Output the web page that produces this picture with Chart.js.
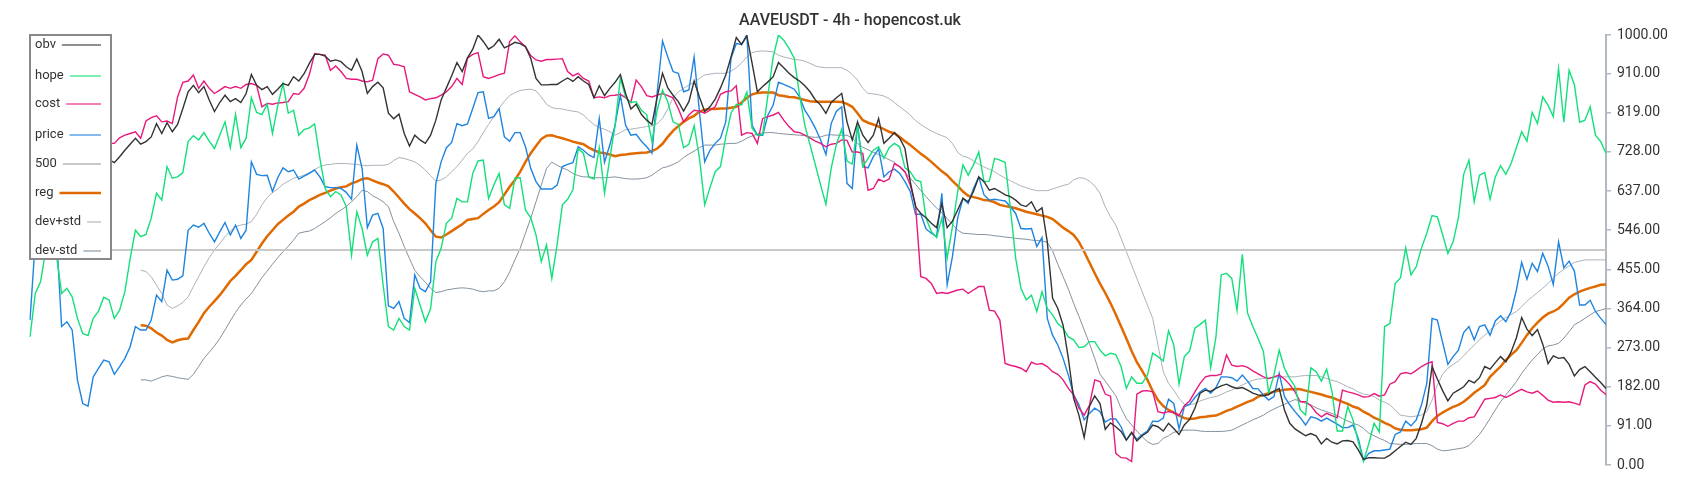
<!DOCTYPE html>
<html>
<head>
<meta charset="utf-8">
<title>AAVEUSDT - 4h - hopencost.uk</title>
<script src="https://cdn.jsdelivr.net/npm/chart.js@4.4.1/dist/chart.umd.min.js"></script>
<style>
  html, body { margin: 0; padding: 0; background: #fff; }
  #wrap { width: 1700px; height: 500px; }
</style>
</head>
<body>
<div id="wrap"><canvas id="chart" width="1700" height="500"></canvas></div>
<script>
const titleText = 'AAVEUSDT - 4h - hopencost.uk';

// y axis tick values (right side)
const yTicks = [0, 91, 182, 273, 364, 455, 546, 637, 728, 819, 910, 1000];

// 300 candles
const obv = [
  690, 700, 680, 670, 690, 705, 720, 710, 700, 715,
  730, 720, 710, 700, 695, 710, 703, 717, 732, 746,
  760, 746, 752, 763, 794, 771, 796, 775, 792, 829,
  868, 883, 866, 880, 849, 822, 843, 860, 845, 852,
  843, 864, 908, 883, 873, 880, 862, 874, 887, 883,
  903, 893, 910, 934, 955, 955, 951, 939, 942, 938,
  926, 918, 944, 915, 864, 880, 890, 877, 818, 805,
  816, 771, 742, 767, 756, 748, 767, 802, 849, 877,
  905, 936, 915, 947, 967, 1000, 985, 967, 975, 990,
  970, 976, 983, 980, 973, 946, 899, 884, 884, 885,
  885, 893, 900, 892, 903, 893, 885, 854, 882, 859,
  876, 890, 908, 864, 828, 839, 815, 802, 792, 856,
  911, 877, 860, 845, 823, 845, 893, 856, 822, 833,
  851, 877, 907, 949, 994, 978, 998, 934, 868, 880,
  891, 903, 936, 924, 911, 901, 893, 882, 868, 849,
  837, 818, 843, 854, 864, 798, 756, 798, 767, 750,
  767, 806, 748, 760, 773, 760, 736, 659, 601, 585,
  575, 562, 552, 608, 552, 567, 593, 620, 612, 636,
  670, 659, 639, 643, 636, 628, 624, 616, 605, 601,
  612, 589, 598, 519, 388, 364, 325, 248, 155, 116,
  64, 136, 161, 143, 83, 98, 89, 78, 58, 76,
  56, 68, 76, 93, 89, 79, 97, 85, 71, 93,
  106, 132, 167, 174, 171, 178, 184, 188, 182, 178,
  180, 174, 167, 163, 161, 164, 172, 178, 128, 97,
  84, 76, 68, 73, 68, 49, 62, 53, 49, 56,
  57, 54, 35, 13, 17, 17, 16, 16, 23, 33,
  43, 53, 48, 62, 97, 140, 229, 200, 173, 149,
  167, 174, 182, 197, 191, 203, 229, 223, 238, 252,
  240, 263, 296, 343, 316, 301, 315, 281, 236, 254,
  248, 250, 234, 207, 222, 229, 217, 204, 192, 178
];

const hope = [
  298, 399, 426, 500, 520, 490, 399, 411, 391, 341,
  306, 301, 341, 358, 390, 384, 341, 360, 403, 480,
  546, 531, 536, 574, 632, 616, 694, 667, 670, 680,
  752, 766, 756, 773, 753, 736, 767, 798, 738, 815,
  738, 760, 854, 820, 815, 839, 771, 835, 887, 818,
  825, 767, 780, 784, 793, 713, 643, 624, 636, 628,
  601, 488, 589, 550, 488, 519, 527, 418, 322, 314,
  341, 322, 314, 411, 372, 333, 364, 473, 504, 562,
  574, 620, 612, 612, 678, 707, 709, 620, 651, 678,
  605, 597, 667, 668, 593, 575, 535, 473, 512, 434,
  512, 605, 618, 640, 735, 725, 670, 665, 738, 632,
  713, 790, 899, 856, 843, 845, 825, 815, 752, 825,
  872, 845, 798, 792, 738, 746, 789, 715, 605, 645,
  682, 694, 763, 818, 839, 837, 867, 783, 767, 769,
  860, 949, 1000, 988, 969, 946, 860, 790, 744, 698,
  651, 606, 690, 746, 781, 707, 700, 790, 694, 713,
  732, 740, 713, 738, 748, 740, 691, 682, 663, 659,
  574, 543, 529, 574, 481, 554, 636, 698, 674, 698,
  728, 659, 660, 713, 709, 704, 597, 481, 411, 384,
  395, 357, 403, 364, 349, 329, 318, 298, 291, 273,
  275, 287, 287, 267, 254, 260, 257, 229, 178, 205,
  190, 190, 209, 260, 252, 242, 312, 279, 188, 252,
  265, 318, 327, 337, 226, 298, 442, 446, 434, 360,
  490, 353, 322, 294, 264, 167, 209, 267, 225, 201,
  182, 128, 116, 226, 217, 195, 223, 172, 79, 79,
  136, 105, 54, 9, 50, 97, 77, 322, 329, 422,
  435, 505, 442, 461, 505, 539, 580, 577, 536, 492,
  519, 575, 676, 709, 612, 674, 680, 618, 670, 696,
  676, 701, 738, 775, 753, 820, 794, 856, 837, 810,
  922, 797, 918, 885, 797, 802, 833, 767, 752, 725
];

const cost = [
  720, 730, 715, 725, 740, 735, 745, 730, 740, 750,
  745, 735, 750, 755, 745, 748, 748, 761, 767, 771,
  775, 760, 800, 808, 812, 798, 800, 794, 856, 890,
  893, 907, 876, 893, 876, 864, 872, 880, 876, 880,
  876, 885, 887, 883, 833, 841, 839, 842, 843, 845,
  864, 862, 876, 908, 957, 955, 953, 918, 928, 915,
  899, 897, 897, 893, 891, 895, 945, 956, 953, 932,
  930, 926, 868, 862, 856, 849, 852, 854, 860, 868,
  880, 899, 885, 946, 955, 959, 903, 899, 903, 908,
  911, 985, 998, 984, 973, 952, 942, 939, 943, 943,
  944, 945, 915, 905, 911, 899, 893, 854, 856, 854,
  859, 860, 862, 854, 843, 895, 880, 859, 856, 860,
  864, 859, 854, 829, 798, 814, 825, 823, 818, 825,
  833, 862, 868, 870, 882, 767, 773, 771, 748, 806,
  810, 814, 820, 802, 787, 775, 773, 767, 760, 753,
  748, 740, 746, 748, 756, 755, 728, 728, 725, 639,
  643, 665, 659, 665, 701, 694, 682, 651, 605, 438,
  434, 422, 399, 401, 399, 403, 407, 409, 399, 407,
  415, 415, 360, 358, 337, 236, 232, 229, 225, 217,
  239, 234, 236, 229, 217, 211, 198, 178, 163, 132,
  116, 139, 198, 194, 165, 160, 27, 17, 16, 8,
  165, 172, 173, 170, 124, 121, 124, 122, 115, 138,
  149, 170, 190, 205, 208, 208, 211, 256, 232, 229,
  231, 227, 219, 212, 205, 201, 205, 209, 200, 187,
  170, 147, 147, 138, 122, 112, 120, 115, 110, 174,
  170, 167, 163, 158, 159, 166, 160, 163, 188, 194,
  212, 215, 212, 220, 229, 236, 240, 99, 96, 90,
  97, 102, 102, 110, 112, 132, 153, 155, 157, 163,
  157, 163, 170, 176, 170, 167, 172, 162, 151, 146,
  147, 146, 147, 144, 140, 186, 194, 188, 174, 164
];

const price = [
  337, 520, 560, 600, 580, 540, 322, 333, 314, 198,
  143, 137, 205, 225, 244, 240, 211, 229, 248, 275,
  322, 314, 314, 337, 395, 380, 453, 430, 432, 440,
  546, 558, 553, 562, 539, 519, 542, 564, 535, 558,
  527, 546, 705, 676, 673, 674, 636, 668, 691, 682,
  686, 665, 672, 678, 686, 670, 647, 645, 645, 643,
  634, 618, 744, 690, 552, 581, 585, 550, 370, 364,
  380, 341, 331, 442, 411, 403, 426, 655, 705, 738,
  750, 794, 789, 793, 829, 866, 868, 806, 810, 829,
  763, 753, 773, 773, 740, 690, 659, 642, 642, 642,
  651, 694, 699, 703, 740, 732, 721, 715, 806, 704,
  744, 790, 860, 790, 767, 769, 753, 740, 725, 868,
  986, 949, 915, 911, 868, 872, 949, 822, 705, 732,
  748, 760, 798, 946, 980, 978, 1000, 790, 767, 767,
  814, 837, 890, 885, 880, 874, 856, 825, 806, 783,
  756, 722, 794, 823, 833, 655, 643, 792, 694, 691,
  717, 735, 670, 682, 688, 678, 659, 636, 583, 583,
  549, 539, 531, 632, 419, 484, 574, 620, 608, 643,
  670, 628, 616, 618, 616, 614, 601, 585, 550, 549,
  550, 508, 529, 341, 302, 279, 248, 209, 163, 140,
  105, 120, 132, 124, 100, 107, 107, 89, 58, 74,
  60, 71, 79, 102, 101, 109, 153, 143, 84, 136,
  141, 157, 170, 178, 167, 180, 205, 205, 203, 195,
  209, 195, 178, 177, 163, 151, 159, 213, 159, 140,
  124, 110, 93, 112, 109, 102, 109, 102, 95, 87,
  87, 93, 62, 10, 27, 33, 33, 35, 37, 71,
  77, 102, 91, 105, 140, 190, 341, 337, 285, 234,
  252, 267, 308, 322, 291, 322, 326, 302, 335, 347,
  333, 357, 407, 471, 432, 469, 450, 492, 463, 420,
  519, 459, 474, 451, 372, 372, 383, 357, 341, 327
];

const level500 = new Array(price.length).fill(500);

const reg = [
  null, null, null, null, null, null, null, null, null, null,
  null, null, null, null, null, null, null, null, null, null,
  null, 325, 324, 318, 308, 301, 291, 285, 290, 293,
  294, 314, 333, 353, 368, 381, 395, 411, 428, 440,
  453, 467, 477, 496, 515, 532, 546, 560, 570, 580,
  589, 601, 608, 616, 622, 628, 633, 638, 643, 646,
  648, 655, 659, 665, 667, 662, 657, 653, 648, 636,
  622, 608, 595, 585, 574, 562, 546, 531, 529, 536,
  544, 552, 560, 570, 572, 574, 584, 593, 601, 611,
  629, 647, 663, 682, 705, 725, 742, 758, 766, 767,
  763, 760, 756, 752, 749, 746, 738, 732, 727, 725,
  722, 718, 721, 722, 724, 725, 726, 727, 730, 736,
  747, 763, 777, 788, 798, 806, 812, 822, 826, 828,
  828, 829, 829, 831, 833, 843, 854, 862, 865, 866,
  866, 866, 860, 858, 856, 855, 852, 849, 846, 845,
  845, 845, 845, 845, 844, 840, 833, 818, 802, 796,
  792, 787, 781, 775, 771, 763, 753, 744, 734, 724,
  715, 705, 694, 683, 674, 661, 649, 636, 626, 623,
  620, 616, 615, 611, 605, 602, 600, 597, 593, 589,
  586, 583, 580, 577, 572, 562, 552, 544, 535, 519,
  496, 471, 446, 422, 400, 376, 350, 322, 294, 265,
  239, 219, 198, 172, 151, 137, 128, 122, 115, 109,
  107, 108, 111, 112, 114, 115, 120, 126, 130, 136,
  141, 147, 151, 159, 163, 167, 170, 173, 175, 176,
  177, 176, 173, 170, 167, 164, 160, 157, 152, 147,
  142, 136, 132, 124, 118, 110, 105, 98, 93, 85,
  82, 81, 81, 82, 83, 87, 102, 114, 122, 129,
  135, 140, 147, 157, 168, 177, 186, 205, 217, 229,
  244, 256, 267, 284, 302, 318, 331, 343, 352, 357,
  364, 376, 389, 397, 403, 408, 412, 415, 419, 420
];

const devPlus = [
  null, null, null, null, null, null, null, null, null, null,
  null, null, null, null, null, null, null, null, null, null,
  null, 453, 450, 438, 418, 399, 372, 364, 370, 378,
  391, 415, 438, 461, 482, 500, 515, 531, 544, 554,
  558, 560, 566, 583, 605, 622, 634, 642, 653, 660,
  667, 670, 674, 680, 687, 694, 698, 699, 701, 701,
  701, 700, 699, 697, 696, 697, 697, 697, 699, 708,
  715, 713, 709, 705, 697, 686, 673, 660, 663, 670,
  682, 694, 709, 725, 735, 752, 773, 792, 810, 829,
  846, 859, 866, 871, 873, 874, 870, 856, 839, 831,
  829, 828, 825, 823, 821, 814, 802, 792, 784, 781,
  775, 767, 773, 780, 781, 783, 785, 787, 789, 794,
  806, 828, 854, 868, 876, 884, 890, 899, 907, 909,
  911, 911, 911, 916, 924, 935, 949, 959, 962, 963,
  962, 961, 953, 949, 946, 943, 942, 939, 934, 928,
  925, 924, 924, 924, 924, 918, 908, 895, 876, 864,
  863, 861, 858, 852, 843, 833, 824, 814, 801, 792,
  784, 777, 771, 766, 761, 748, 727, 718, 715, 707,
  699, 693, 688, 682, 674, 667, 661, 655, 649, 645,
  641, 638, 638, 638, 642, 646, 650, 653, 663, 668,
  667, 660, 649, 632, 600, 577, 558, 527, 496, 465,
  434, 403, 372, 341, 279, 217, 190, 174, 155, 141,
  140, 143, 149, 153, 157, 159, 164, 170, 174, 180,
  186, 192, 197, 200, 201, 203, 204, 205, 205, 205,
  205, 207, 208, 208, 208, 205, 201, 197, 194, 188,
  182, 177, 170, 165, 163, 159, 151, 146, 140, 128,
  116, 114, 112, 114, 116, 124, 151, 186, 211, 225,
  234, 242, 254, 267, 279, 291, 302, 314, 325, 335,
  343, 350, 357, 368, 381, 391, 401, 411, 422, 435,
  446, 455, 463, 471, 474, 477, 477, 477, 477, 477
];

const devMinus = [
  null, null, null, null, null, null, null, null, null, null,
  null, null, null, null, null, null, null, null, null, null,
  null, 198, 198, 195, 200, 205, 208, 206, 203, 201,
  199, 211, 229, 248, 262, 277, 294, 314, 335, 355,
  372, 386, 399, 417, 436, 451, 467, 482, 496, 509,
  523, 539, 542, 544, 550, 558, 566, 575, 585, 593,
  601, 612, 624, 639, 636, 626, 620, 612, 601, 566,
  539, 508, 480, 453, 438, 425, 411, 401, 403, 407,
  409, 411, 412, 411, 409, 405, 403, 405, 405, 411,
  426, 449, 477, 504, 539, 574, 612, 651, 690, 704,
  697, 691, 686, 678, 673, 670, 670, 668, 668, 668,
  669, 670, 668, 666, 665, 665, 666, 668, 674, 683,
  691, 694, 699, 705, 715, 723, 730, 738, 744, 744,
  744, 746, 747, 748, 748, 753, 760, 765, 770, 772,
  773, 773, 771, 770, 769, 768, 767, 766, 763, 762,
  763, 767, 768, 767, 767, 767, 760, 748, 739, 733,
  727, 722, 716, 710, 704, 692, 680, 667, 653, 638,
  624, 610, 598, 587, 573, 560, 546, 539, 538, 537,
  536, 536, 535, 533, 532, 530, 529, 527, 526, 525,
  523, 522, 521, 518, 498, 467, 438, 409, 376, 346,
  314, 283, 248, 211, 195, 178, 161, 132, 108, 93,
  79, 66, 54, 48, 50, 62, 68, 76, 79, 81,
  81, 81, 79, 78, 78, 78, 78, 79, 81, 87,
  93, 99, 105, 110, 116, 124, 130, 136, 141, 147,
  152, 149, 143, 140, 133, 128, 124, 120, 115, 108,
  102, 97, 93, 85, 74, 68, 62, 57, 50, 49,
  48, 48, 49, 50, 50, 50, 45, 37, 33, 34,
  36, 38, 40, 45, 58, 71, 89, 108, 128, 147,
  163, 178, 194, 213, 229, 244, 257, 270, 277, 279,
  283, 295, 310, 326, 333, 341, 349, 357, 360, 364
];

// candle index used as category
const labels = price.map((_, i) => i);

const line = (label, data, color, width) => ({
  label: label,
  data: data,
  borderColor: color,
  backgroundColor: color,
  borderWidth: width,
  pointRadius: 0,
  fill: false,
  tension: 0
});

// legend box + title drawn on the canvas
const legendRows = [45, 76, 104, 135, 164, 193, 222, 251];
const boxLegend = {
  id: 'boxLegend',
  afterDraw(chart) {
    const ctx = chart.ctx;
    ctx.save();
    ctx.font = '500 16px Roboto';
    ctx.fillStyle = '#333';
    ctx.textAlign = 'center';
    ctx.textBaseline = 'middle';
    ctx.fillText(titleText, 850, 21);

    ctx.fillStyle = '#fff';
    ctx.fillRect(30, 35, 81, 224);
    ctx.strokeStyle = '#888';
    ctx.lineWidth = 2;
    ctx.strokeRect(30, 35, 81, 224);

    ctx.font = '13px Roboto';
    ctx.textAlign = 'left';
    chart.data.datasets.forEach((ds, i) => {
      const y = legendRows[i];
      const thick = ds.borderWidth >= 2;
      ctx.globalAlpha = 1;
      ctx.fillStyle = '#333';
      ctx.fillText(ds.label, 35, y);
      const x0 = 35 + ctx.measureText(ds.label).width + 6;
      ctx.globalAlpha = thick ? 1 : 0.55;
      ctx.strokeStyle = ds.borderColor;
      ctx.lineWidth = thick ? ds.borderWidth : 2;
      ctx.beginPath();
      ctx.moveTo(x0, y);
      ctx.lineTo(101, y);
      ctx.stroke();
    });
    ctx.restore();
  }
};

const chart = new Chart(document.getElementById('chart'), {
  type: 'line',
  data: {
    labels: labels,
    datasets: [
      line('obv', obv, '#333333', 1.4),
      line('hope', hope, '#12e07a', 1.4),
      line('cost', cost, '#e8197c', 1.4),
      line('price', price, '#1e84e0', 1.4),
      line('500', level500, '#c8c8c8', 2),
      line('reg', reg, '#e06a00', 2.5),
      line('dev+std', devPlus, '#aab2ba', 1),
      line('dev-std', devMinus, '#84919e', 1)
    ]
  },
  options: {
    responsive: false,
    devicePixelRatio: 1,
    animation: false,
    events: [],
    layout: { padding: { left: 30, right: 0, top: 35, bottom: 35 } },
    scales: {
      x: { type: 'category', display: false, offset: false },
      y: {
        position: 'right',
        min: 0,
        max: 1000,
        afterBuildTicks: s => { s.ticks = yTicks.map(v => ({ value: v })); },
        afterFit: s => { s.width = 94; },
        ticks: {
          autoSkip: false,
          padding: 6,
          color: '#333',
          font: { family: 'Roboto', size: 14 },
          callback: v => Number(v).toFixed(2)
        },
        grid: { drawOnChartArea: false, drawTicks: true, tickLength: 5, color: '#b0b8c0', lineWidth: 1.5 },
        border: { display: true, color: '#b0b8c0', width: 2 }
      }
    },
    plugins: {
      legend: { display: false },
      tooltip: { enabled: false },
      title: { display: false }
    }
  },
  plugins: [boxLegend]
});
</script>
</body>
</html>
